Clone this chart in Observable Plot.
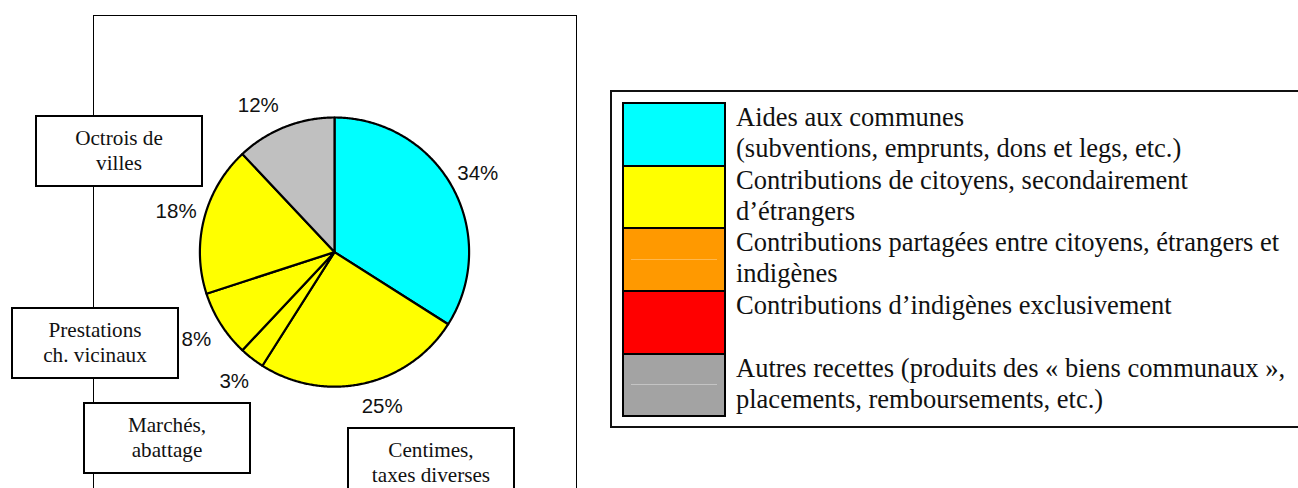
<!DOCTYPE html>
<html>
<head>
<meta charset="utf-8">
<script src="https://cdn.jsdelivr.net/npm/d3@7"></script>
<script src="https://cdn.jsdelivr.net/npm/@observablehq/plot@0.6"></script>
<style>
  html, body { margin: 0; padding: 0; background: #fff; }
  #wrap { position: relative; width: 1298px; height: 488px; overflow: hidden; background: #fff; }
  #frame { position: absolute; box-sizing: border-box; border: 1px solid #000; border-bottom: none; }
  #chart { position: absolute; left: 0; top: 0; }
  .callout { position: absolute; box-sizing: border-box; border: 2px solid #000; background: #fff;
    display: flex; flex-direction: column; align-items: center; justify-content: center;
    font-family: "Liberation Serif", "Times New Roman", serif; font-size: 21.2px; line-height: 25px; color: #111; white-space: nowrap; }
  #legendBox { position: absolute; box-sizing: border-box; border: 2px solid #111; border-right: none; background: #fff; }
  .swatch { position: absolute; box-sizing: border-box; border: 2px solid #000; }
  .sheen { position: absolute; height: 1px; }
  .legtext { position: absolute; font-family: "Liberation Serif", "Times New Roman", serif; font-size: 26.5px; line-height: 31px; color: #111; white-space: nowrap; }
</style>
</head>
<body>
<div id="wrap">
  <div id="frame"></div>
  <div id="chart"></div>
</div>
<script>
// ---------- data ----------
const sliceNames = ["Aides aux communes", "Centimes, taxes diverses", "Marchés, abattage", "Prestations ch. vicinaux", "Octrois de villes", "Autres recettes"];
const sliceValues = [34, 25, 3, 8, 18, 12];
const sliceKinds = [0, 1, 1, 1, 1, 4]; // index into legendItems
const calloutTexts = [["Octrois de", "villes"], ["Prestations", "ch. vicinaux"], ["Marchés,", "abattage"], ["Centimes,", "taxes diverses"]];
const legendItems = [
  ["Aides aux communes", "(subventions, emprunts, dons et legs, etc.)"],
  ["Contributions de citoyens, secondairement", "d’étrangers"],
  ["Contributions partagées entre citoyens, étrangers et", "indigènes"],
  ["Contributions d’indigènes exclusivement"],
  ["Autres recettes (produits des « biens communaux »,", "placements, remboursements, etc.)"]
];

// ---------- styles & layout ----------
const pieKindColors = ["#00FFFF", "#FFFF00", "#FF9900", "#FF0000", "#C0C0C0"];
const legendKindColors = ["#00FFFF", "#FFFF00", "#FF9900", "#FF0000", "#A3A3A3"];
const legendSheen = [null, null, "#FFB84D", null, "#C4C4C4"];
const layout = {
  cx: 334, cy: 251.6, r: 134.6, labelRadius: 1.215,
  labelNudge: [[0, 0], [12, -5], [0, 0], [0, 0], [0, 0], [-16, 5]],
  frame: { left: 93, top: 15, width: 484, height: 600 },
  callouts: [{ left: 35, top: 115 }, { left: 11, top: 307 }, { left: 83, top: 402 }, { left: 347, top: 427 }],
  calloutSize: { width: 168, height: 72 },
  legend: { left: 610, top: 90, width: 800, height: 338, swatchLeft: 622, swatchTop: 102, swatchW: 104, swatchH: 62.67, textLeft: 736 }
};

// ---------- pie geometry from data ----------
const arcs = d3.pie().sort(null).value(d => d)(sliceValues);
const piePoints = [];
arcs.forEach((a, i) => {
  const name = sliceNames[i];
  piePoints.push({ name, x: 0, y: 0 });
  const n = Math.max(2, Math.ceil((a.endAngle - a.startAngle) / (Math.PI / 360)));
  for (let k = 0; k <= n; k++) {
    const t = a.startAngle + (a.endAngle - a.startAngle) * k / n;
    piePoints.push({ name, x: Math.sin(t), y: Math.cos(t) });
  }
  piePoints.push({ name, x: 0, y: 0 });
});
const labelData = arcs.map((a, i) => {
  const m = (a.startAngle + a.endAngle) / 2;
  return { text: sliceValues[i] + "%", x: layout.labelRadius * Math.sin(m), y: layout.labelRadius * Math.cos(m), i };
});

const chart = Plot.plot({
  width: 1298,
  height: 488,
  x: { domain: [-1, 1], range: [layout.cx - layout.r, layout.cx + layout.r], axis: null },
  y: { domain: [-1, 1], range: [layout.cy + layout.r, layout.cy - layout.r], axis: null },
  color: { domain: sliceNames, range: sliceKinds.map(k => pieKindColors[k]) },
  style: { background: "transparent", overflow: "visible" },
  marks: [
    Plot.line(piePoints, { x: "x", y: "y", z: "name", fill: "name", stroke: "#000", strokeWidth: 2.2, strokeLinejoin: "round", curve: "linear" }),
    ...labelData.map(d => Plot.text([d], {
      x: "x", y: "y", text: "text",
      dx: layout.labelNudge[d.i][0], dy: layout.labelNudge[d.i][1],
      fontSize: 20.5, fontFamily: "'Liberation Sans', Arial, sans-serif", fill: "#111"
    }))
  ]
});
document.getElementById("chart").appendChild(chart);

// ---------- frame ----------
const wrap = document.getElementById("wrap");
const frame = document.getElementById("frame");
Object.assign(frame.style, {
  left: layout.frame.left + "px", top: layout.frame.top + "px",
  width: layout.frame.width + "px", height: layout.frame.height + "px"
});

// ---------- callout boxes ----------
calloutTexts.forEach((lines, i) => {
  const div = document.createElement("div");
  div.className = "callout";
  Object.assign(div.style, {
    left: layout.callouts[i].left + "px", top: layout.callouts[i].top + "px",
    width: layout.calloutSize.width + "px", height: layout.calloutSize.height + "px"
  });
  lines.forEach(t => { const s = document.createElement("div"); s.textContent = t; div.appendChild(s); });
  wrap.appendChild(div);
});

// ---------- legend ----------
const L = layout.legend;
const box = document.createElement("div");
box.id = "legendBox";
Object.assign(box.style, { left: L.left + "px", top: L.top + "px", width: L.width + "px", height: L.height + "px" });
wrap.appendChild(box);
legendItems.forEach((lines, i) => {
  const top = L.swatchTop + L.swatchH * i;
  const sw = document.createElement("div");
  sw.className = "swatch";
  Object.assign(sw.style, {
    left: L.swatchLeft + "px", top: top + "px",
    width: L.swatchW + "px", height: (L.swatchH + 2) + "px", background: legendKindColors[i]
  });
  wrap.appendChild(sw);
  if (legendSheen[i]) {
    const sh = document.createElement("div");
    sh.className = "sheen";
    Object.assign(sh.style, {
      left: (L.swatchLeft + 9) + "px", top: Math.round(top + L.swatchH / 2) + "px",
      width: (L.swatchW - 18) + "px", background: legendSheen[i]
    });
    wrap.appendChild(sh);
  }
  const tx = document.createElement("div");
  tx.className = "legtext";
  Object.assign(tx.style, { left: L.textLeft + "px", top: top + "px" });
  tx.innerHTML = lines.map(t => t.replace(/&/g, "&amp;").replace(/</g, "&lt;")).join("<br>");
  wrap.appendChild(tx);
});
</script>
</body>
</html>
